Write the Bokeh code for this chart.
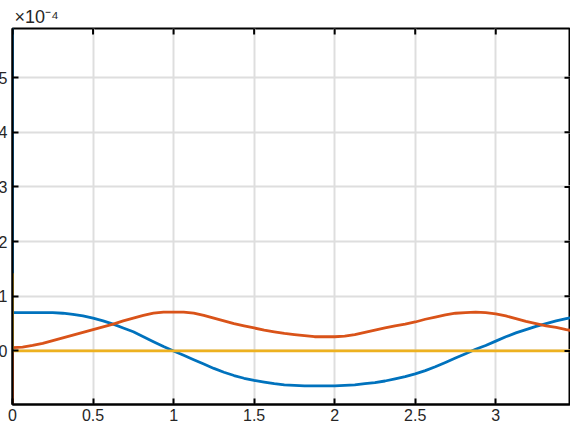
from bokeh.plotting import figure
from bokeh.models import FixedTicker
from bokeh.embed import file_html
from bokeh.resources import INLINE

# ---- data (values in units of 1e-4); first sample is the start-up transient at t = 0 ----
t = [0.0,
     0.0, 0.0625, 0.125, 0.1875, 0.25, 0.3125, 0.375, 0.4375, 0.5, 0.5625, 0.625, 0.6875,
     0.75, 0.8125, 0.875, 0.9375, 1.0, 1.0625, 1.125, 1.1875, 1.25, 1.3125, 1.375, 1.4375,
     1.5, 1.5625, 1.625, 1.6875, 1.75, 1.8125, 1.875, 1.9375, 2.0, 2.0625, 2.125, 2.1875,
     2.25, 2.3125, 2.375, 2.4375, 2.5, 2.5625, 2.625, 2.6875, 2.75, 2.8125, 2.875, 2.9375,
     3.0, 3.0625, 3.125, 3.1875, 3.25, 3.3125, 3.375, 3.4375, 3.5]
series_blue = [8.0,
               0.70, 0.70, 0.70, 0.70, 0.70, 0.69, 0.67, 0.64, 0.60, 0.55, 0.49, 0.42,
               0.35, 0.26, 0.17, 0.08, 0.00, -0.08, -0.16, -0.24, -0.32, -0.39, -0.45, -0.50,
               -0.54, -0.57, -0.60, -0.62, -0.63, -0.64, -0.64, -0.64, -0.64, -0.63, -0.62, -0.60,
               -0.58, -0.55, -0.51, -0.47, -0.42, -0.36, -0.29, -0.21, -0.13, -0.05, 0.03, 0.10,
               0.18, 0.26, 0.33, 0.39, 0.45, 0.50, 0.55, 0.59, 0.63]
series_orange = [-3.0,
                 0.06, 0.07, 0.10, 0.14, 0.19, 0.24, 0.29, 0.34, 0.39, 0.44, 0.49, 0.55,
                 0.60, 0.65, 0.69, 0.71, 0.71, 0.71, 0.69, 0.65, 0.60, 0.55, 0.50, 0.46,
                 0.42, 0.38, 0.35, 0.32, 0.30, 0.28, 0.26, 0.26, 0.26, 0.27, 0.30, 0.34,
                 0.38, 0.42, 0.46, 0.49, 0.53, 0.58, 0.62, 0.66, 0.69, 0.70, 0.71, 0.70,
                 0.68, 0.64, 0.59, 0.54, 0.50, 0.46, 0.43, 0.39, 0.36]
series_yellow = [1.42] + [0.0] * 57

x_ticks = [0, 0.5, 1, 1.5, 2, 2.5, 3]
x_tick_labels = ["0", "0.5", "1", "1.5", "2", "2.5", "3"]
y_ticks = [0, 1, 2, 3, 4, 5]
y_tick_labels = ["0", "1", "2", "3", "4", "5"]
multiplier_text = "\u00d710\u207b\u2074"

FONT = "Liberation Sans"
X0, X1 = 0.0, 3.464
Y0, Y1 = -0.98, 5.90
W, H = 578, 428
ML, MR, MT, MB = 20, 0, 28, 24

p = figure(width=W, height=H, output_backend="svg", toolbar_location=None,
           x_range=(X0, X1), y_range=(Y0, Y1),
           min_border_left=ML, min_border_right=MR, min_border_top=MT, min_border_bottom=MB)
p.styles = {"margin-left": "-8px"}
p.outline_line_color = "black"
p.outline_line_width = 2
p.background_fill_color = "white"
p.border_fill_color = "white"

# title used for the axis multiplier
p.title.text = multiplier_text
p.title.align = "left"
p.title.offset = 2
p.title.standoff = 3
p.title.text_font = FONT
p.title.text_font_size = "18px"
p.title.text_font_style = "normal"
p.title.text_color = "#262626"

# grid
for g in (p.xgrid, p.ygrid):
    g.grid_line_color = "#dedede"
    g.grid_line_width = 2
p.xgrid.ticker = FixedTicker(ticks=x_ticks)
p.ygrid.ticker = FixedTicker(ticks=y_ticks)

# lines (MATLAB default colour order)
p.line(t, series_blue, line_color="#0072BD", line_width=2.8)
p.line(t, series_orange, line_color="#D95319", line_width=2.8)
p.line(t, series_yellow, line_color="#EDB120", line_width=2.8)

def style_axis(ax, ticks, labels):
    ax.ticker = FixedTicker(ticks=ticks)
    ax.major_label_overrides = {tk: lb for tk, lb in zip(ticks, labels)}
    ax.major_tick_in = 6
    ax.major_tick_out = 0
    ax.major_tick_line_width = 2
    ax.major_tick_line_color = "black"
    ax.minor_tick_line_color = None
    ax.axis_line_color = "black"
    ax.axis_line_width = 2
    ax.major_label_text_font = FONT
    ax.major_label_text_color = "#262626"
    ax.major_label_text_font_size = "16px"

style_axis(p.xaxis[0], x_ticks, x_tick_labels)
p.xaxis[0].major_label_standoff = 4
style_axis(p.yaxis[0], y_ticks, y_tick_labels)
p.yaxis[0].major_label_standoff = 5

# inward ticks on the top and right edges of the box (6 px long)
px_x = (X1 - X0) / (W - ML - MR)
px_y = (Y1 - Y0) / (H - MT - MB)
p.segment(x0=x_ticks, y0=[Y1] * len(x_ticks), x1=x_ticks, y1=[Y1 - 6 * px_y] * len(x_ticks),
          line_color="black", line_width=2)
p.segment(x0=[X1] * len(y_ticks), y0=y_ticks, x1=[X1 - 6 * px_x] * len(y_ticks), y1=y_ticks,
          line_color="black", line_width=2)

open("out.html", "w").write(file_html(p, INLINE))
